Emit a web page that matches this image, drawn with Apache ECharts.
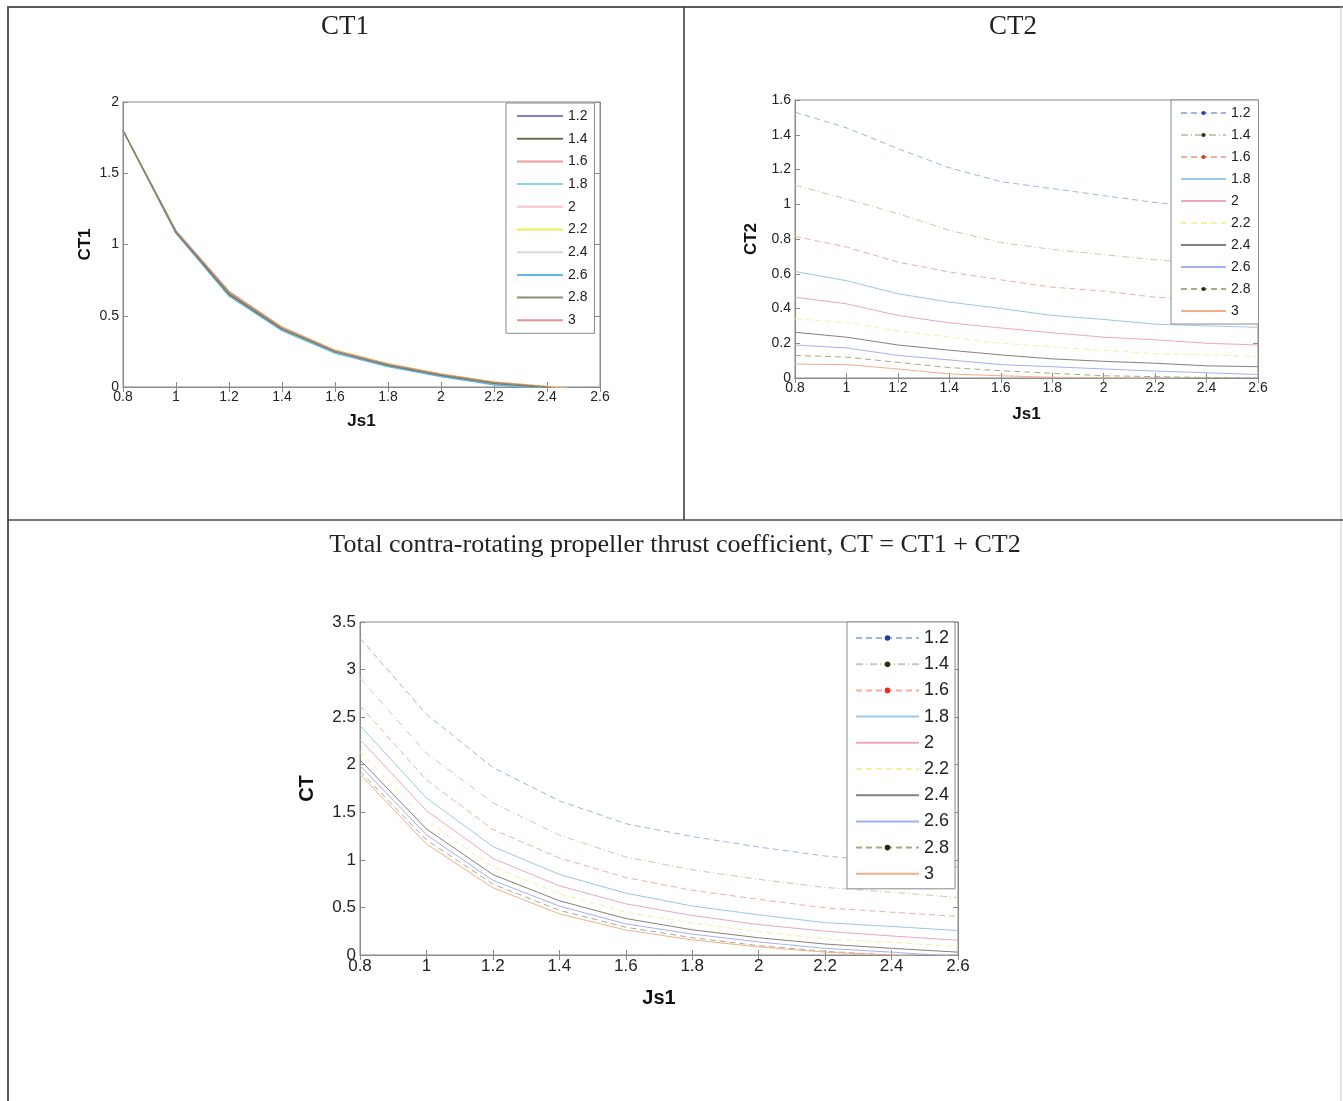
<!DOCTYPE html>
<html>
<head>
<meta charset="utf-8">
<script src="https://cdn.jsdelivr.net/npm/echarts@6/dist/echarts.min.js"></script>
<style>
  html, body { margin: 0; padding: 0; background: #fff; }
  #chart { width: 1343px; height: 1101px; }
</style>
</head>
<body>
<div id="chart"></div>
<script>
// advance ratio Js1 at which every curve is sampled
const js1 = [0.8, 1.0, 1.2, 1.4, 1.6, 1.8, 2.0, 2.2, 2.4, 2.6];
// speed ratio of each curve (legend entries)
const ratios = ["1.2", "1.4", "1.6", "1.8", "2", "2.2", "2.4", "2.6", "2.8", "3"];

// CT1, one row per ratio
const ct1Values = [
  [1.80, 1.080, 0.640, 0.400, 0.243, 0.148, 0.078, 0.018, -0.012, -0.045],
  [1.80, 1.085, 0.650, 0.405, 0.248, 0.152, 0.082, 0.025, -0.005, -0.040],
  [1.80, 1.090, 0.660, 0.415, 0.252, 0.158, 0.088, 0.032, 0.002, -0.035],
  [1.80, 1.082, 0.642, 0.398, 0.240, 0.145, 0.075, 0.020, -0.010, -0.045],
  [1.80, 1.092, 0.665, 0.418, 0.256, 0.160, 0.090, 0.035, 0.004, -0.032],
  [1.80, 1.095, 0.670, 0.422, 0.260, 0.165, 0.092, 0.036, 0.005, -0.030],
  [1.80, 1.088, 0.655, 0.410, 0.250, 0.155, 0.085, 0.030, 0.000, -0.035],
  [1.80, 1.080, 0.638, 0.395, 0.238, 0.143, 0.073, 0.015, -0.015, -0.050],
  [1.80, 1.090, 0.662, 0.412, 0.250, 0.156, 0.086, 0.030, 0.000, -0.035],
  [1.80, 1.098, 0.672, 0.420, 0.258, 0.162, 0.090, 0.034, 0.003, -0.032],
];

// CT2, one row per ratio
const ct2Values = [
  [1.53, 1.44, 1.32, 1.21, 1.13, 1.09, 1.05, 1.01, 0.98, 0.96],
  [1.11, 1.03, 0.946, 0.85, 0.78, 0.74, 0.71, 0.68, 0.66, 0.64],
  [0.815, 0.754, 0.667, 0.61, 0.565, 0.523, 0.50, 0.465, 0.45, 0.44],
  [0.613, 0.56, 0.485, 0.437, 0.40, 0.36, 0.337, 0.31, 0.30, 0.292],
  [0.465, 0.427, 0.36, 0.317, 0.288, 0.26, 0.235, 0.22, 0.20, 0.19],
  [0.34, 0.32, 0.27, 0.235, 0.20, 0.18, 0.16, 0.14, 0.133, 0.123],
  [0.263, 0.235, 0.19, 0.16, 0.133, 0.11, 0.096, 0.085, 0.07, 0.065],
  [0.19, 0.173, 0.13, 0.104, 0.077, 0.065, 0.052, 0.04, 0.03, 0.02],
  [0.13, 0.12, 0.09, 0.06, 0.042, 0.027, 0.013, 0.008, 0.003, 0.0],
  [0.08, 0.077, 0.052, 0.023, 0.013, 0.004, 0.0, -0.005, -0.01, -0.01],
];

// total CT, one row per ratio
const ctValues = [
  [3.33, 2.53, 1.97, 1.62, 1.38, 1.245, 1.135, 1.04, 0.98, 0.925],
  [2.91, 2.12, 1.60, 1.26, 1.03, 0.895, 0.795, 0.71, 0.66, 0.605],
  [2.62, 1.84, 1.32, 1.02, 0.815, 0.68, 0.585, 0.495, 0.45, 0.405],
  [2.41, 1.65, 1.14, 0.847, 0.65, 0.515, 0.422, 0.34, 0.30, 0.257],
  [2.265, 1.517, 1.015, 0.727, 0.538, 0.415, 0.32, 0.25, 0.20, 0.155],
  [2.14, 1.41, 0.925, 0.645, 0.45, 0.335, 0.245, 0.17, 0.133, 0.088],
  [2.05, 1.325, 0.845, 0.57, 0.383, 0.265, 0.181, 0.115, 0.07, 0.03],
  [1.99, 1.263, 0.785, 0.514, 0.327, 0.22, 0.137, 0.07, 0.03, -0.015],
  [1.93, 1.21, 0.745, 0.47, 0.292, 0.182, 0.098, 0.038, 0.0, -0.035],
  [1.90, 1.167, 0.707, 0.433, 0.263, 0.159, 0.085, 0.03, 0.0, -0.035],
];

const SANS = "Liberation Sans, Arial, sans-serif";
const SERIF = "Liberation Serif, Times New Roman, serif";
const AXIS_GRAY = "#8a8a8a";

const CT1_COLORS = ["#7f7fd8", "#6f6f52", "#ee9c9c", "#86dbe6", "#f6c2cc", "#eeee58", "#d6d6d6", "#66b6ee", "#8c8c70", "#ee9090"];
const CT2_LINE = ["#9db6e6", "#c6ccae", "#f2ae9c", "#9cc6ee", "#f0a6be", "#f4f0a8", "#8a7e7c", "#a2b0f6", "#a6ac86", "#f4ae8c"];
const CT2_DOT = ["#1e3ea8", "#2c3418", "#e62e1c", null, null, null, null, null, "#1c2c14", null];
const DASH = [[6, 4], [7, 3, 1, 3], [6, 4], "solid", "solid", [6, 4], "solid", "solid", [6, 4], "solid"];

function pairs(row) {
  return js1.map((x, i) => [x, row[i]]);
}

function axesFor(grid, yMax, yStep, fontSize, yName, nameGapY, nameGapX) {
  const label = { color: "#222", fontFamily: SANS, fontSize };
  const line = { lineStyle: { color: AXIS_GRAY, width: 1 } };
  const tick = { inside: true, length: 5, lineStyle: { color: AXIS_GRAY } };
  const nameStyle = { fontFamily: SANS, fontWeight: "bold", fontSize: fontSize + 3, color: "#111" };
  return {
    x: [
      {
        type: "value", gridIndex: grid, min: 0.8, max: 2.6, interval: 0.2,
        position: "bottom", axisLine: line, axisTick: tick, splitLine: { show: false },
        axisLabel: { ...label, margin: 3 },
        name: "Js1", nameLocation: "middle", nameGap: nameGapX, nameTextStyle: nameStyle,
      },
      {
        type: "value", gridIndex: grid, min: 0.8, max: 2.6, interval: 0.2,
        position: "top", axisLine: line, axisTick: tick, splitLine: { show: false },
        axisLabel: { show: false },
      },
    ],
    y: [
      {
        type: "value", gridIndex: grid, min: 0, max: yMax, interval: yStep,
        position: "left", axisLine: { show: true, ...line }, axisTick: { show: true, ...tick },
        splitLine: { show: false }, axisLabel: { ...label, margin: 4 },
        name: yName, nameLocation: "middle", nameGap: nameGapY, nameTextStyle: nameStyle,
      },
      {
        type: "value", gridIndex: grid, min: 0, max: yMax, interval: yStep,
        position: "right", axisLine: { show: true, ...line }, axisTick: { show: true, ...tick },
        splitLine: { show: false }, axisLabel: { show: false },
      },
    ],
  };
}

const ax1 = axesFor(0, 2, 0.5, 14, "CT1", 29, 26);
const ax2 = axesFor(1, 1.6, 0.2, 14, "CT2", 35, 28);
const ax3 = axesFor(2, 3.5, 0.5, 17, "CT", 43, 33);

const series = [];
ratios.forEach((r, i) => {
  series.push({
    name: "a" + r, type: "line", xAxisIndex: 0, yAxisIndex: 0,
    data: pairs(ct1Values[i]), symbol: "none", clip: true,
    z: (i === 1 || i === 8) ? 3 : 2,
    lineStyle: { color: CT1_COLORS[i], width: 1.2 },
    itemStyle: { color: CT1_COLORS[i] },
  });
});
ratios.forEach((r, i) => {
  const dot = CT2_DOT[i];
  series.push({
    name: "b" + r, type: "line", xAxisIndex: 2, yAxisIndex: 2,
    data: pairs(ct2Values[i]), clip: true,
    symbol: dot ? "circle" : "none", symbolSize: 4, showSymbol: false,
    lineStyle: { color: CT2_LINE[i], width: 1, type: DASH[i] },
    itemStyle: { color: dot || CT2_LINE[i] },
  });
});
ratios.forEach((r, i) => {
  const dot = CT2_DOT[i];
  series.push({
    name: "c" + r, type: "line", xAxisIndex: 4, yAxisIndex: 4,
    data: pairs(ctValues[i]), clip: true,
    symbol: dot ? "circle" : "none", symbolSize: 5, showSymbol: false,
    lineStyle: { color: CT2_LINE[i], width: 1, type: DASH[i] },
    itemStyle: { color: dot || CT2_LINE[i] },
  });
});

// legend icon dot is 80% of itemHeight; hide it where the series has no marker
function legendFor(prefix, dots, left, top, itemWidth, dotBox, fontSize, itemGap, padding) {
  return {
    data: ratios.map((r, i) => ({
      name: prefix + r,
      itemStyle: dots && dots[i] ? {} : { opacity: 0 },
    })),
    formatter: (name) => name.slice(1),
    orient: "vertical", left, top, itemWidth, itemHeight: dotBox, itemGap,
    padding, borderColor: "#8a8a8a", borderWidth: 1, backgroundColor: "#fff",
    selectedMode: false,
    textStyle: { color: "#222", fontFamily: SANS, fontSize },
  };
}

const chart = echarts.init(document.getElementById("chart"), null, { renderer: "canvas" });
chart.setOption({
  animation: false,
  backgroundColor: "#fff",
  grid: [
    { left: 123, top: 102, width: 477, height: 285, show: true, borderColor: AXIS_GRAY, borderWidth: 1 },
    { left: 795, top: 100, width: 463, height: 278, show: true, borderColor: AXIS_GRAY, borderWidth: 1 },
    { left: 360, top: 622, width: 598, height: 333, show: true, borderColor: AXIS_GRAY, borderWidth: 1 },
  ],
  xAxis: [...ax1.x, ...ax2.x, ...ax3.x],
  yAxis: [...ax1.y, ...ax2.y, ...ax3.y],
  legend: [
    legendFor("a", null, 506, 103, 46, 14, 14, 8.7, [6, 7, 6, 10]),
    legendFor("b", CT2_DOT, 1171, 100, 45, 5, 14, 8, [6, 8, 6, 9]),
    legendFor("c", CT2_DOT, 847, 622, 63, 7, 18, 8.2, [7, 6, 6, 8]),
  ],
  series,
  graphic: [
    { type: "line", shape: { x1: 8, y1: 7, x2: 1343, y2: 7 }, style: { stroke: "#5a5a5a", lineWidth: 2 } },
    { type: "line", shape: { x1: 8, y1: 6, x2: 8, y2: 1101 }, style: { stroke: "#5a5a5a", lineWidth: 2 } },
    { type: "line", shape: { x1: 1341, y1: 7, x2: 1341, y2: 1101 }, style: { stroke: "#c8c8c8", lineWidth: 1 } },
    { type: "line", shape: { x1: 684, y1: 7, x2: 684, y2: 520 }, style: { stroke: "#333", lineWidth: 1.5 } },
    { type: "line", shape: { x1: 8, y1: 520, x2: 1343, y2: 520 }, style: { stroke: "#4a4a4a", lineWidth: 1.5 } },
    { type: "text", x: 345, y: 27, style: { text: "CT1", font: "27px " + SERIF, fill: "#222", textAlign: "center", textVerticalAlign: "middle" } },
    { type: "text", x: 1013, y: 27, style: { text: "CT2", font: "27px " + SERIF, fill: "#222", textAlign: "center", textVerticalAlign: "middle" } },
    { type: "text", x: 675, y: 545, style: { text: "Total contra-rotating propeller thrust coefficient, CT = CT1 + CT2", font: "26px " + SERIF, fill: "#222", textAlign: "center", textVerticalAlign: "middle" } },
  ],
});
</script>
</body>
</html>
